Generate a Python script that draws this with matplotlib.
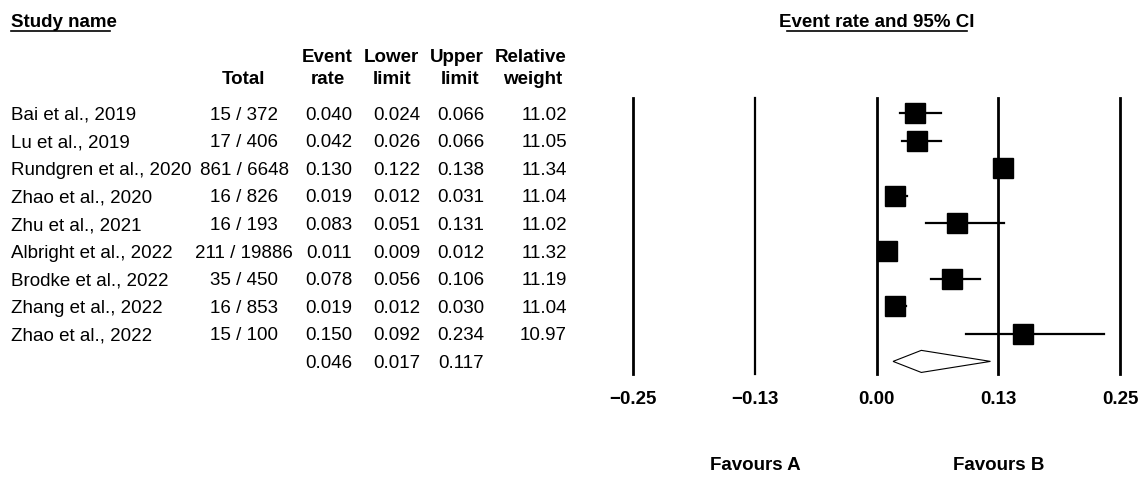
import matplotlib
matplotlib.use("Agg")
import matplotlib.pyplot as plt
from matplotlib.patches import Polygon

# study data
studies = [
    "Bai et al., 2019",
    "Lu et al., 2019",
    "Rundgren et al., 2020",
    "Zhao et al., 2020",
    "Zhu et al., 2021",
    "Albright et al., 2022",
    "Brodke et al., 2022",
    "Zhang et al., 2022",
    "Zhao et al., 2022",
]
totals = ["15 / 372", "17 / 406", "861 / 6648", "16 / 826", "16 / 193",
          "211 / 19886", "35 / 450", "16 / 853", "15 / 100"]
event_rate = [0.040, 0.042, 0.130, 0.019, 0.083, 0.011, 0.078, 0.019, 0.150]
lower = [0.024, 0.026, 0.122, 0.012, 0.051, 0.009, 0.056, 0.012, 0.092]
upper = [0.066, 0.066, 0.138, 0.031, 0.131, 0.012, 0.106, 0.030, 0.234]
weights = [11.02, 11.05, 11.34, 11.04, 11.02, 11.32, 11.19, 11.04, 10.97]

pooled_rate = 0.046
pooled_lower = 0.017
pooled_upper = 0.117

tick_values = [-0.25, -0.125, 0.0, 0.125, 0.25]
tick_labels = ["\u22120.25", "\u22120.13", "0.00", "0.13", "0.25"]

W, H = 1144, 503
FONT = "Liberation Sans"
FS = 13.5
HALF_CAP = 6.7  # half the cap height in pixels, to turn row centres into baselines

fig = plt.figure(figsize=(W / 100, H / 100), dpi=100)


def put(px, py, s, **kw):
    # place text by the pixel centre of its capitals, measured from the top-left
    kw.setdefault("fontsize", FS)
    kw.setdefault("family", FONT)
    fig.text(px / W, 1 - (py + HALF_CAP) / H, s, va="baseline", **kw)


def underline(x0, x1, py):
    fig.add_artist(plt.Line2D([x0 / W, x1 / W], [1 - py / H, 1 - py / H],
                              color="black", lw=1.2, transform=fig.transFigure))


# ---- table on the left ----
row0 = 113
step = 27.6

put(11, 20, "Study name", weight="bold")
underline(11, 110, 31)

put(244, 77, "Total", weight="bold", ha="center")
put(327, 55, "Event", weight="bold", ha="center")
put(328, 77, "rate", weight="bold", ha="center")
put(391, 55, "Lower", weight="bold", ha="center")
put(392, 77, "limit", weight="bold", ha="center")
put(457, 55, "Upper", weight="bold", ha="center")
put(460, 77, "limit", weight="bold", ha="center")
put(531, 55, "Relative", weight="bold", ha="center")
put(533, 77, "weight", weight="bold", ha="center")

for i, name in enumerate(studies):
    y = row0 + step * i
    put(11, y, name)
    put(244, y, totals[i], ha="center")
    put(352, y, f"{event_rate[i]:.3f}", ha="right")
    put(420, y, f"{lower[i]:.3f}", ha="right")
    put(484, y, f"{upper[i]:.3f}", ha="right")
    put(567, y, f"{weights[i]:.2f}", ha="right")

y = row0 + step * len(studies)
put(352, y, f"{pooled_rate:.3f}", ha="right")
put(420, y, f"{pooled_lower:.3f}", ha="right")
put(484, y, f"{pooled_upper:.3f}", ha="right")

# ---- forest plot on the right ----
left, right, top, bottom = 633, 1120, 98, 374
ax = fig.add_axes([left / W, 1 - bottom / H, (right - left) / W, (bottom - top) / H])
ax.set_xlim(-0.25, 0.25)
ax.set_ylim((bottom - row0) / step, (top - row0) / step)

for v in tick_values:
    ax.axvline(v, color="black", lw=1.6 if v in (-0.125,) else 2.0,
               clip_on=False, zorder=1)

for i in range(len(studies)):
    ax.plot([lower[i], upper[i]], [i, i], color="black", lw=1.6, zorder=2)
    ax.plot(event_rate[i], i, marker="s", color="black",
            markersize=4.45 * weights[i] ** 0.5, linestyle="none", zorder=3)

d = len(studies)
diamond = Polygon([[pooled_lower, d], [pooled_rate, d - 0.4],
                   [pooled_upper, d], [pooled_rate, d + 0.4]],
                  closed=True, facecolor="white", edgecolor="black", lw=0.8, zorder=3)
ax.add_patch(diamond)

ax.set_xticks(tick_values)
ax.set_xticklabels(tick_labels, fontsize=FS, fontweight="bold", family=FONT)
ax.tick_params(axis="x", length=0, pad=12)
ax.set_yticks([])
for s in ax.spines.values():
    s.set_visible(False)

put(877, 20, "Event rate and 95% CI", weight="bold", ha="center")
underline(787, 967, 31)

put(755, 463, "Favours A", weight="bold", ha="center")
put(999, 463, "Favours B", weight="bold", ha="center")

fig.savefig("out.png", dpi=100, facecolor="white")
